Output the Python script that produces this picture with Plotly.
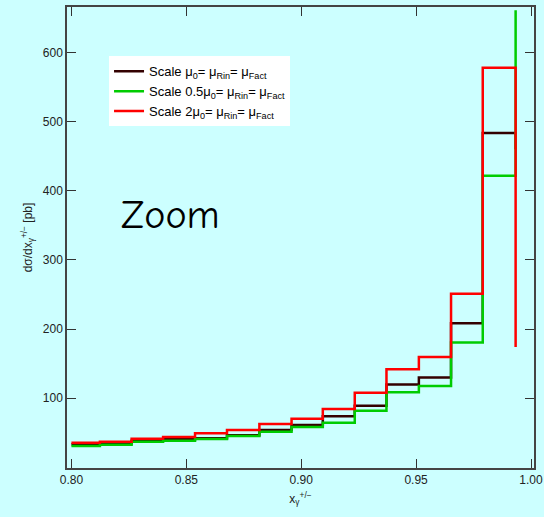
import plotly.graph_objects as go

# bin edges (left edges of each bin + final edge)
edges = [0.80, 0.8124, 0.8262, 0.8399, 0.8538, 0.8677, 0.8818, 0.8958,
         0.9094, 0.9233, 0.9371, 0.9512, 0.9652, 0.979, 0.9933]

# values per bin; last value is where the final vertical line ends
scale_1 = [33.5, 35, 38.5, 40.5, 42.1, 46.4, 54.1, 61.4, 74, 89, 120, 130, 208.5, 483.5, 460]
scale_05 = [31, 32.7, 37, 38.6, 41.1, 45.4, 51.7, 58.5, 64.7, 82, 108.7, 117.8, 180.5, 421.7, 661]
scale_2 = [35.7, 37.2, 41.5, 44, 49.3, 54.1, 62.8, 70.5, 84.5, 108, 142, 159.5, 251, 578, 174]

names = ["Scale μ<sub>0</sub>= μ<sub>Rin</sub>= μ<sub>Fact</sub>",
         "Scale 0.5μ<sub>0</sub>= μ<sub>Rin</sub>= μ<sub>Fact</sub>",
         "Scale 2μ<sub>0</sub>= μ<sub>Rin</sub>= μ<sub>Fact</sub>"]
colors = ["#330000", "#00cc00", "#ff0000"]

fig = go.Figure()
for name, vals, col in zip(names, [scale_1, scale_05, scale_2], colors):
    fig.add_trace(go.Scatter(x=edges, y=vals, mode="lines", name=name,
                             line=dict(color=col, width=2.5, shape="hv")))

axis_common = dict(showgrid=False, zeroline=False, showline=True, mirror="ticks",
                   linecolor="#444444", linewidth=1.5, ticks="inside", ticklen=9,
                   tickcolor="#333333", tickwidth=1.2, automargin=False,
                   tickfont=dict(family="Liberation Sans, Arial", size=12, color="#222222"))

fig.update_xaxes(range=[0.79808, 1.0013], tickvals=[0.80, 0.85, 0.90, 0.95, 1.00],
                 ticktext=["0.80", "0.85", "0.90", "0.95", "1.00"],
                 title=dict(text="x<sub>γ</sub><sup>+/−</sup>", standoff=8,
                            font=dict(family="Liberation Sans, Arial", size=12, color="#222222")),
                 **axis_common)
fig.update_yaxes(range=[-0.9, 665.8], tickvals=[100, 200, 300, 400, 500, 600],
                 title=dict(text="dσ/dx<sub>γ</sub><sup>+/−</sup> [pb]", standoff=8,
                            font=dict(family="Liberation Sans, Arial", size=12, color="#222222")),
                 **axis_common)

fig.add_annotation(text="Zoom", xref="paper", yref="paper", x=0.221, y=0.548,
                   showarrow=False, xanchor="center", yanchor="middle",
                   font=dict(family="Comic Sans MS, Comic Neue, Lato", size=40, color="black"))

fig.update_layout(
    width=544, height=517,
    margin=dict(l=67, r=10, t=7, b=49),
    paper_bgcolor="#ccffff", plot_bgcolor="#ccffff",
    showlegend=True,
    legend=dict(x=0.09, y=0.893, xanchor="left", yanchor="top",
                bgcolor="white", borderwidth=0,
                font=dict(family="Liberation Sans, Arial", size=13, color="black"),
                tracegroupgap=0, itemwidth=30),
)

fig.write_html("out.html")
